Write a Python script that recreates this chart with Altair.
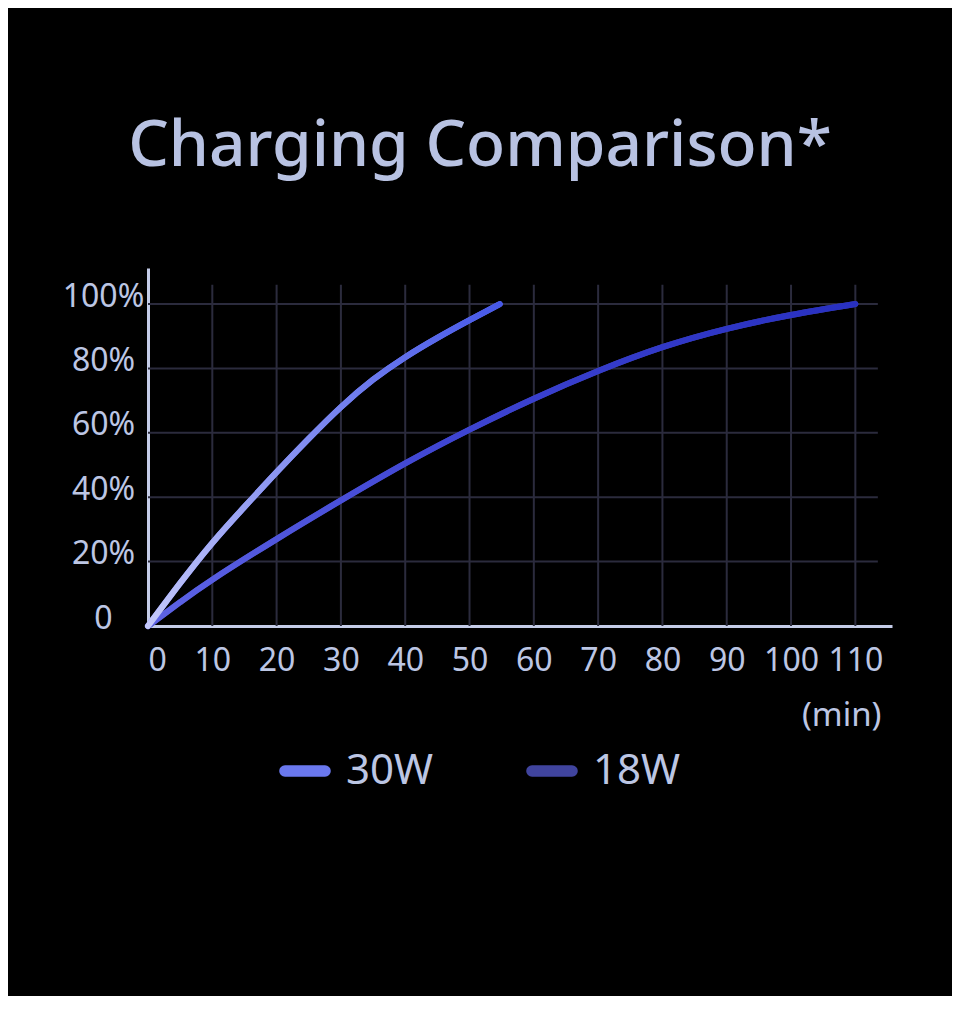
import altair as alt
import pandas as pd

# ---- data ----
min_30w = [0, 5, 10, 15, 20, 25, 30, 35, 40, 45, 50, 54.7]
pct_30w = [0, 13.3, 25.8, 37, 47.8, 58.2, 68, 76.5, 83.5, 89.5, 95, 100]
min_18w = [0, 5, 10, 20, 30, 40, 50, 60, 70, 80, 90, 100, 110]
pct_18w = [0, 7.4, 14.4, 27, 39, 50.5, 61, 70.6, 79.2, 86.6, 92.3, 96.6, 100]
series = ["30W", "18W"]
x_ticks = [0, 10, 20, 30, 40, 50, 60, 70, 80, 90, 100, 110]
y_ticks = [0, 20, 40, 60, 80, 100]
x_max, y_max = 115.7, 111.2
grid_x_end, grid_y_end = 113.5, 106

df30 = pd.DataFrame({"min": min_30w, "pct": pct_30w, "s": "30W"})
df18 = pd.DataFrame({"min": min_18w, "pct": pct_18w, "s": "18W"})
df_all = pd.concat([df30, df18])

TXT = "#bcc6e4"
GRID = "#2b2b3d"
FONT = "Noto Sans"
PILL = "M -1,-0.04 L 1,-0.04 A 0.04,0.04 0 0 1 1,0.04 L -1,0.04 A 0.04,0.04 0 0 1 -1,-0.04 Z"
INTERP = "natural"

xs = alt.Scale(domain=[0, x_max], nice=False, zero=True)
ys = alt.Scale(domain=[0, y_max], nice=False, zero=True)

hgrid = alt.Chart(pd.DataFrame({"y": y_ticks[1:], "x0": 0, "x1": grid_x_end})).mark_rule(
    color=GRID, strokeWidth=2
).encode(x=alt.X("x0:Q", scale=xs), x2="x1:Q", y=alt.Y("y:Q", scale=ys))

vgrid = alt.Chart(pd.DataFrame({"x": x_ticks[1:], "y0": 0, "y1": grid_y_end})).mark_rule(
    color=GRID, strokeWidth=2
).encode(x=alt.X("x:Q", scale=xs), y=alt.Y("y0:Q", scale=ys), y2="y1:Q")

base_lines = alt.Chart(df_all).mark_line(
    strokeWidth=6, strokeCap="round", strokeJoin="round", interpolate=INTERP
).encode(
    x=alt.X(
        "min:Q", scale=xs,
        axis=alt.Axis(
            values=x_ticks, grid=False, ticks=False, domain=True,
            domainColor="#c4cce8", domainWidth=3,
            labelColor=TXT, labelFont=FONT, labelFontSize=32, labelPadding=19,
            title="(min)", titleColor=TXT, titleFont=FONT, titleFontSize=33,
            titleFontWeight="normal", titleAnchor="end", titleAlign="right",
            titleX=733, titleY=89, titleBaseline="middle",
        ),
    ),
    y=alt.Y(
        "pct:Q", scale=ys,
        axis=alt.Axis(
            values=y_ticks, grid=False, ticks=False, domain=True,
            domainColor="#c4cce8", domainWidth=3,
            labelColor=TXT, labelFont=FONT, labelFontSize=32, labelPadding=45,
            labelAlign="center", labelBaseline="middle", labelOffset=-8,
            labelExpr="datum.value == 0 ? '0' : datum.value + '%'",
            title=None,
        ),
    ),
    color=alt.Color(
        "s:N",
        scale=alt.Scale(domain=series, range=["#6a78ee", "#40449e"]),
        sort=series,
        legend=alt.Legend(
            title=None, orient="none", direction="horizontal",
            legendX=132, legendY=478,
            symbolType=PILL, symbolSize=1600, symbolStrokeWidth=10,
            labelFont=FONT, labelFontSize=42, labelColor=TXT, labelOffset=16,
            columnPadding=77, symbolOpacity=1,
        ),
    ),
    detail="s:N",
)

line30 = alt.Chart(df30).mark_line(
    strokeWidth=6, strokeCap="round", strokeJoin="round", interpolate=INTERP,
    color=alt.Gradient(
        gradient="linear", x1=0, y1=1, x2=1, y2=0,
        stops=[alt.GradientStop(color="#c4c8fa", offset=0),
               alt.GradientStop(color="#8e98f2", offset=0.4),
               alt.GradientStop(color="#4658e8", offset=1)],
    ),
).encode(x=alt.X("min:Q", scale=xs), y=alt.Y("pct:Q", scale=ys))

line18 = alt.Chart(df18).mark_line(
    strokeWidth=6, strokeCap="round", strokeJoin="round", interpolate=INTERP,
    color=alt.Gradient(
        gradient="linear", x1=0, y1=1, x2=1, y2=0,
        stops=[alt.GradientStop(color="#5e64e6", offset=0),
               alt.GradientStop(color="#3f45d2", offset=0.5),
               alt.GradientStop(color="#2830c0", offset=1)],
    ),
).encode(x=alt.X("min:Q", scale=xs), y=alt.Y("pct:Q", scale=ys))

chart = alt.layer(hgrid, vgrid, base_lines, line18, line30).properties(
    width=744, height=358,
    autosize=alt.AutoSizeParams(type="none"),
    padding={"left": 140, "top": 260, "right": 60, "bottom": 370},
    background="#000000",
    title=alt.Title(
        "Charging Comparison*", fontSize=64, font=FONT, fontWeight=500,
        color="#b8c2e2", anchor="middle", dx=-40, offset=38, baseline="alphabetic",
    ),
).configure_view(stroke=None)

chart.save("out.html", embed_options={"renderer": "svg", "actions": False})
